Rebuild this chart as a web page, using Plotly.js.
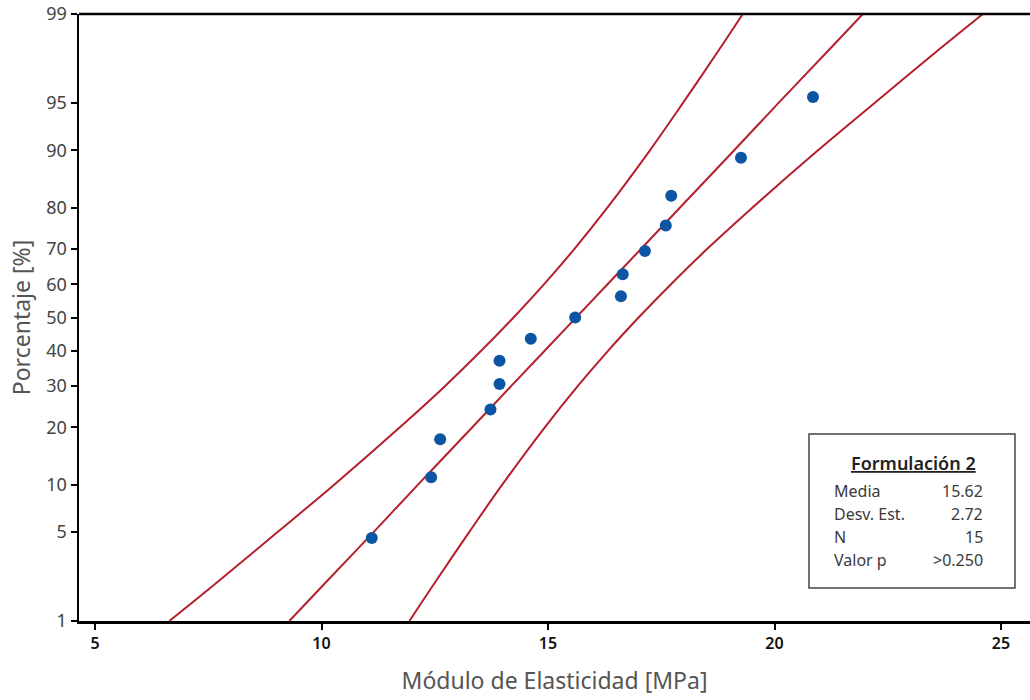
<!DOCTYPE html>
<html>
<head>
<meta charset="utf-8">
<script src="https://cdn.plot.ly/plotly-3.0.1.min.js"></script>
<style>
  html, body { margin: 0; padding: 0; background: #ffffff; }
  #chart { width: 1030px; height: 700px; }
</style>
</head>
<body>
<div id="chart"></div>
<script>
// ---- Data ----
const modulo = [11.11, 12.42, 12.62, 13.73, 13.93, 13.93, 14.62, 15.60, 16.61, 16.65, 17.14, 17.60, 17.72, 19.26, 20.85];
const porcentaje = [4.55, 11.04, 17.53, 24.03, 30.52, 37.01, 43.51, 50.00, 56.49, 62.99, 69.48, 75.97, 82.47, 88.96, 95.45];

const curvePct = [1, 2, 5, 10, 20, 30, 40, 50, 60, 70, 80, 90, 95, 98, 99];
const ajuste = [9.29, 10.03, 11.15, 12.13, 13.33, 14.19, 14.93, 15.62, 16.31, 17.05, 17.91, 19.11, 20.09, 21.21, 21.95];
const bandaInf = [6.64, 7.61, 9.03, 10.28, 11.73, 12.73, 13.53, 14.24, 14.91, 15.58, 16.31, 17.25, 17.98, 18.78, 19.30];
const bandaSup = [11.94, 12.46, 13.26, 13.99, 14.93, 15.66, 16.33, 17.00, 17.71, 18.51, 19.51, 20.96, 22.21, 23.63, 24.60];

const yTickPct = [1, 5, 10, 20, 30, 40, 50, 60, 70, 80, 90, 95, 99];
const xTicks = [5, 10, 15, 20, 25];

const legendTitle = "Formulación 2";
const statLabels = ["Media", "Desv. Est.", "N", "Valor p"];
const statValues = ["15.62", "2.72", "15", ">0.250"];

// ---- Normal probability scale (percent -> z) ----
function probit(p) {
  const a = [-3.969683028665376e+01, 2.209460984245205e+02, -2.759285104469687e+02, 1.383577518672690e+02, -3.066479806614716e+01, 2.506628277459239e+00];
  const b = [-5.447609879822406e+01, 1.615858368580409e+02, -1.556989798598866e+02, 6.680131188771972e+01, -1.328068155288572e+01];
  const c = [-7.784894002430293e-03, -3.223964580411365e-01, -2.400758277161838e+00, -2.549732539343734e+00, 4.374664141464968e+00, 2.938163982698783e+00];
  const d = [7.784695709041462e-03, 3.224671290700398e-01, 2.445134137142996e+00, 3.754408661907416e+00];
  const pl = 0.02425, ph = 1 - pl;
  let q, r;
  if (p < pl) {
    q = Math.sqrt(-2 * Math.log(p));
    return (((((c[0]*q+c[1])*q+c[2])*q+c[3])*q+c[4])*q+c[5]) / ((((d[0]*q+d[1])*q+d[2])*q+d[3])*q+1);
  } else if (p <= ph) {
    q = p - 0.5; r = q*q;
    return (((((a[0]*r+a[1])*r+a[2])*r+a[3])*r+a[4])*r+a[5])*q / (((((b[0]*r+b[1])*r+b[2])*r+b[3])*r+b[4])*r+1);
  } else {
    q = Math.sqrt(-2 * Math.log(1 - p));
    return -(((((c[0]*q+c[1])*q+c[2])*q+c[3])*q+c[4])*q+c[5]) / ((((d[0]*q+d[1])*q+d[2])*q+d[3])*q+1);
  }
}
const toZ = arr => arr.map(v => probit(v / 100));

const FONT = "Noto Sans, Open Sans, DejaVu Sans, sans-serif";
const RED = "#b51f2c";
const BLUE = "#0b55a3";

const lineTrace = (xs, name) => ({
  type: "scatter", mode: "lines", name: name,
  x: xs, y: toZ(curvePct),
  line: { color: RED, width: 2, shape: "spline", smoothing: 1 },
  hoverinfo: "skip", showlegend: false, cliponaxis: true
});

const traces = [
  lineTrace(bandaInf, "IC inferior"),
  lineTrace(ajuste, "Ajuste"),
  lineTrace(bandaSup, "IC superior"),
  {
    type: "scatter", mode: "markers", name: "Datos",
    x: modulo, y: toZ(porcentaje),
    marker: { color: BLUE, size: 12, line: { width: 0 } },
    showlegend: false
  }
];

const zMin = probit(0.01), zMax = probit(0.99);

const annotations = [
  {
    xref: "paper", yref: "paper", x: 0.877, y: 0.2603,
    text: "<u>" + legendTitle + "</u>", showarrow: false,
    xanchor: "center", yanchor: "middle",
    font: { family: FONT, size: 18, color: "#222222", weight: 600 }
  }
];
const rowY = [0.2142, 0.1763, 0.1384, 0.1005];
statLabels.forEach((lab, i) => {
  annotations.push({
    xref: "paper", yref: "paper", x: 0.7918, y: rowY[i], text: lab,
    showarrow: false, xanchor: "left", yanchor: "middle",
    font: { family: FONT, size: 16, color: "#3a3a3a" }
  });
  annotations.push({
    xref: "paper", yref: "paper", x: 0.9527, y: rowY[i], text: statValues[i],
    showarrow: false, xanchor: "right", yanchor: "middle",
    font: { family: FONT, size: 16, color: "#3a3a3a" }
  });
});

const layout = {
  width: 1030, height: 700,
  margin: { l: 79, r: 0, t: 14, b: 79, pad: 0 },
  paper_bgcolor: "#ffffff", plot_bgcolor: "#ffffff",
  showlegend: false,
  font: { family: FONT, color: "#333333" },
  xaxis: {
    range: [4.647, 25.64],
    tickvals: xTicks, ticktext: xTicks.map(String),
    showgrid: false, zeroline: false,
    showline: true, linecolor: "#000000", linewidth: 2.5,
    ticks: "outside", ticklen: 6, tickwidth: 2, tickcolor: "#000000",
    tickfont: { family: FONT, size: 16, color: "#111111", weight: 600 },
    title: { text: "Módulo de Elasticidad [MPa]", font: { family: FONT, size: 23, color: "#555555" }, standoff: 20 }
  },
  yaxis: {
    range: [zMin, zMax],
    tickvals: toZ(yTickPct), ticktext: yTickPct.map(String),
    showgrid: false, zeroline: false,
    showline: true, linecolor: "#000000", linewidth: 2.5,
    ticks: "outside", ticklen: 6, tickwidth: 2, tickcolor: "#000000",
    tickfont: { family: FONT, size: 18, color: "#444444" },
    title: { text: "Porcentaje [%]", font: { family: FONT, size: 23, color: "#555555" }, standoff: 10 }
  },
  shapes: [
    { type: "line", xref: "paper", yref: "paper", x0: 0, x1: 1, y0: 1, y1: 1,
      line: { color: "#000000", width: 2.5 } },
    { type: "rect", xref: "paper", yref: "paper", x0: 0.7676, x1: 0.9842, y0: 0.0544, y1: 0.3081,
      line: { color: "#444444", width: 1.5 }, fillcolor: "#ffffff", layer: "below" }
  ],
  annotations: annotations
};

Plotly.newPlot("chart", traces, layout, { displayModeBar: false, staticPlot: true });
</script>
</body>
</html>
